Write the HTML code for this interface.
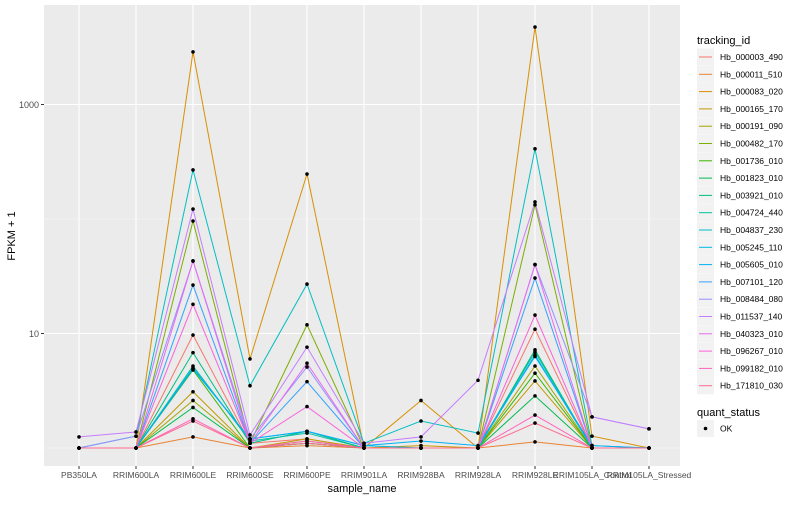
<!DOCTYPE html>
<html><head><meta charset="utf-8"><style>
body{margin:0;background:#fff;font-family:"Liberation Sans",sans-serif}
svg text{font-family:"Liberation Sans",sans-serif}
</style></head><body>
<svg id="chart" width="800" height="500" xmlns="http://www.w3.org/2000/svg">
<rect x="44" y="5" width="636" height="461" fill="#ebebeb"/>
<g id="grid"></g><g id="lines"></g><g id="pts"></g><g id="axes"></g><g id="legend"></g>
</svg>
<script>
const categories=["PB350LA","RRIM600LA","RRIM600LE","RRIM600SE","RRIM600PE","RRIM901LA","RRIM928BA","RRIM928LA","RRIM928LE","RRIM105LA_Control","RRIM105LA_Stressed"];
const seriesNames=["Hb_000003_490","Hb_000011_510","Hb_000083_020","Hb_000165_170","Hb_000191_090","Hb_000482_170","Hb_001736_010","Hb_001823_010","Hb_003921_010","Hb_004724_440","Hb_004837_230","Hb_005245_110","Hb_005605_010","Hb_007101_120","Hb_008484_080","Hb_011537_140","Hb_040323_010","Hb_096267_010","Hb_099182_010","Hb_171810_030"];
const colors=["#F8766D","#EA8331","#D89000","#C09B00","#A3A500","#7CAE00","#39B600","#00BB4E","#00BF7D","#00C1A3","#00BFC4","#00BAE0","#00B0F6","#35A2FF","#9590FF","#C77CFF","#E76BF3","#FA62DB","#FF62BC","#FF6C91"];
const s0=[1,1,9.7,1.1,1.2,1,1,1,10.9,1,1];
const s1=[1,1,1.25,1,1.05,1,1,1,1.13,1,1];
const s2=[1,1,2880,6,247,1,2.6,1,4750,1.27,1];
const s3=[1,1,3.1,1,1.2,1,1.05,1,3.85,1,1];
const s4=[1,1,2.6,1,1.15,1,1,1,5.2,1,1];
const s5=[1,1,96,1.1,11.9,1,1,1,133,1,1];
const s6=[1,1,4.8,1,1.1,1,1,1,4.5,1,1];
const s7=[1,1,2.26,1,1.1,1,1,1,2.85,1,1];
const s8=[1,1,6.8,1.1,1.4,1,1,1,7.2,1,1];
const s9=[1,1,5.2,1.15,1.35,1,1,1,6.9,1,1];
const s10=[1,1.27,268,3.5,27,1.1,1.72,1.35,410,1.05,1];
const s11=[1,1,5.0,1.2,1.4,1.05,1,1,6.5,1,1];
const s12=[1,1,4.9,1.2,1.4,1.05,1.15,1.05,6.3,1.05,1];
const s13=[1,1,26.5,1.1,3.8,1,1,1,30.5,1,1];
const s14=[1,1.27,43,1.2,5.1,1,1,1,40,1.87,1.47];
const s15=[1.25,1.38,122,1.3,7.6,1.1,1.25,3.9,141,1.87,1.47];
const s16=[1,1,43,1.1,5.5,1,1,1,40,1,1];
const s17=[1,1,18,1.1,2.3,1,1,1,14.5,1,1];
const s18=[1,1,1.8,1,1.15,1,1,1,1.94,1,1];
const s19=[1,1,1.72,1,1.1,1,1,1,1.65,1,1];
const series=[s0,s1,s2,s3,s4,s5,s6,s7,s8,s9,s10,s11,s12,s13,s14,s15,s16,s17,s18,s19];
const yTicks=[10,1000];
const yTickLabels=["10","1000"];
const NS="http://www.w3.org/2000/svg";
const x=i=>79+i*57;
const y=v=>448-114.5*Math.log10(v);
function mk(tag,attrs,parent,txt){const e=document.createElementNS(NS,tag);for(const k in attrs)e.setAttribute(k,attrs[k]);if(txt!==undefined)e.textContent=txt;document.getElementById(parent).appendChild(e);return e;}
// grid
[1,100].forEach(v=>{const g=mk('line',{x1:44,x2:680,y1:y(v),y2:y(v),stroke:'#f5f5f5','stroke-width':0.6},'grid');});
yTicks.forEach((v,i)=>{const g=mk('line',{x1:44,x2:680,y1:y(v),y2:y(v),stroke:'#fff','stroke-width':1.1},'grid');
const t=mk('text',{x:39,y:y(v)+3.5,'text-anchor':'end','font-size':9,fill:'#4d4d4d'},'axes',yTickLabels[i]);
mk('line',{x1:41,x2:44,y1:y(v),y2:y(v),stroke:'#333'},'axes');});
categories.forEach((c,i)=>{const g=mk('line',{x1:x(i),x2:x(i),y1:5,y2:466,stroke:'#fff','stroke-width':1.1},'grid');
mk('line',{x1:x(i),x2:x(i),y1:466,y2:469,stroke:'#333'},'axes');
const t=mk('text',{x:x(i),y:478,'text-anchor':'middle','font-size':8.5,fill:'#4d4d4d'},'axes',c);});
series.forEach((s,k)=>{const p=mk('polyline',{points:s.map((v,i)=>x(i)+','+y(v)).join(' '),fill:'none',stroke:colors[k],'stroke-width':1},'lines');


s.forEach((v,i)=>{const c=mk('circle',{cx:x(i),cy:y(v),r:1.8,fill:'#000'},'pts');});});
let t=mk('text',{x:362,y:492,'text-anchor':'middle','font-size':11,fill:'#000'},'axes','sample_name');
t=mk('text',{x:0,y:0,transform:'translate(15,236) rotate(-90)','text-anchor':'middle','font-size':11,fill:'#000'},'axes','FPKM + 1');
// legend
t=mk('text',{x:697,y:44,'font-size':11,fill:'#000'},'legend','tracking_id');
seriesNames.forEach((n,k)=>{const cy=57+k*17.3;
const r=mk('rect',{x:697,y:cy-8.5,width:17,height:17,fill:'#f2f2f2'},'legend');
mk('line',{x1:699,x2:712,y1:cy,y2:cy,stroke:colors[k]},'legend');
const tt=mk('text',{x:720,y:cy+3,'font-size':8.5,fill:'#000'},'legend',n);});
t=mk('text',{x:697,y:416,'font-size':11,fill:'#000'},'legend','quant_status');
let r=mk('rect',{x:697,y:420,width:17,height:17,fill:'#f2f2f2'},'legend');
mk('circle',{cx:705.5,cy:428.5,r:1.8,fill:'#000'},'legend');
t=mk('text',{x:720,y:431.5,'font-size':8.5,fill:'#000'},'legend','OK');
</script>
</body></html>
